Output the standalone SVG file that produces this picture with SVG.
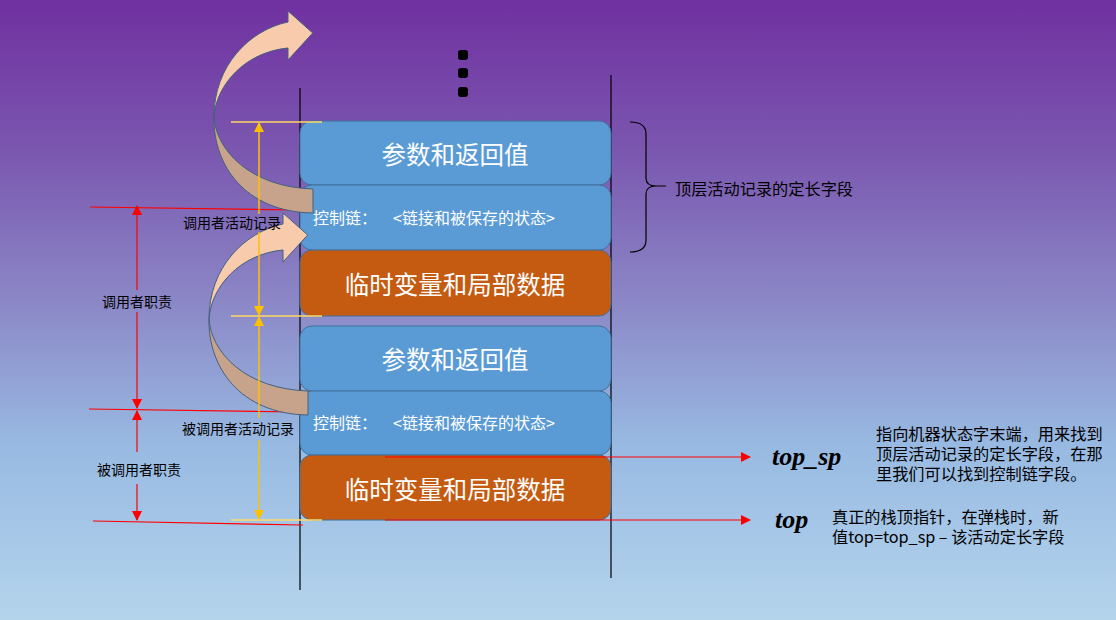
<svg xmlns="http://www.w3.org/2000/svg" xmlns:xlink="http://www.w3.org/1999/xlink" width="1116" height="620" viewBox="0 0 1116 620">
<defs>
<linearGradient id="bg" x1="0" y1="0" x2="0" y2="1">
<stop offset="0" stop-color="#7030A0"/>
<stop offset="0.25" stop-color="#7B58B0"/>
<stop offset="0.5" stop-color="#8C8AC8"/>
<stop offset="0.72" stop-color="#98BAE2"/>
<stop offset="1" stop-color="#B4D4EC"/>
</linearGradient>
<marker id="ar" viewBox="0 0 10 10" refX="9" refY="5" markerWidth="10" markerHeight="10" markerUnits="userSpaceOnUse" orient="auto-start-reverse"><path d="M0,0 L10,5 L0,10 Z" fill="#FF0000"/></marker>
<marker id="ay" viewBox="0 0 10 10" refX="9" refY="5" markerWidth="10" markerHeight="10" markerUnits="userSpaceOnUse" orient="auto-start-reverse"><path d="M0,0 L10,5 L0,10 Z" fill="#FFC000"/></marker>
<g id="carrow">
<path d="M214,117 C216,150 250,187 313,189 L313,213 C245,212 213,165 214,117 Z" fill="#C6A38A" stroke="#44607E" stroke-width="1"/>
<path d="M312.7,33 L288,11 L288,22 C250,30 214,65 214,117 C216,85 245,52 288,48 L288,60 Z" fill="#F8CBAD" stroke="#44607E" stroke-width="1"/>
</g>
</defs>
<style>
.box{stroke:#41719C;stroke-width:1}
.blue{fill:#5B9BD5}
.orange{fill:#C55A11}
.big{font-family:"Noto Sans CJK SC","Noto Sans",sans-serif;font-size:24.5px;fill:#FFFFFF;text-anchor:middle;dominant-baseline:central}
.small{font-family:"Noto Sans CJK SC","Noto Sans",sans-serif;font-size:16px;fill:#FFFFFF;dominant-baseline:central}
.lbl{font-family:"Noto Sans CJK SC","Noto Sans",sans-serif;font-size:14px;fill:#000000;dominant-baseline:central}
.desc{font-family:"Noto Sans CJK SC","Noto Sans",sans-serif;font-size:16.2px;fill:#000000;dominant-baseline:central}
.ptr{font-family:"Liberation Serif",serif;font-size:26px;font-weight:bold;font-style:italic;fill:#000000}
.red{stroke:#FF0000;stroke-width:1.2;fill:none}
.yel{stroke:#FFC000;stroke-width:1.5;fill:none}
.yelh{stroke:#FFD966;stroke-width:1.5;fill:none}
</style>
<rect x="0" y="0" width="1116" height="620" fill="url(#bg)"/>

<g id="dots" fill="#000000">
<rect x="458" y="50" width="10" height="10" rx="3"/>
<rect x="458" y="68" width="10" height="10" rx="3"/>
<rect x="458" y="87" width="10" height="10" rx="3"/>
</g>

<g id="rails" stroke="#000000" stroke-width="1.2">
<line x1="300" y1="88" x2="300" y2="590"/>
<line x1="611" y1="75" x2="611" y2="578"/>
</g>

<g id="box1"><rect class="box blue" x="300" y="121" width="311" height="64" rx="12"/><text class="big" x="455" y="153">参数和返回值</text></g>
<g id="box2"><rect class="box blue" x="300" y="185" width="311" height="65" rx="12"/><text class="small" x="313" y="217">控制链：<tspan x="393">&lt;链接和被保存的状态&gt;</tspan></text></g>
<g id="box3"><rect class="box orange" x="300" y="250" width="311" height="66" rx="12"/><text class="big" x="455" y="283">临时变量和局部数据</text></g>
<g id="box4"><rect class="box blue" x="300" y="326" width="311" height="65" rx="12"/><text class="big" x="455" y="358">参数和返回值</text></g>
<g id="box5"><rect class="box blue" x="300" y="391" width="311" height="64" rx="12"/><text class="small" x="313" y="422">控制链：<tspan x="393">&lt;链接和被保存的状态&gt;</tspan></text></g>
<g id="box6"><rect class="box orange" x="300" y="455" width="311" height="65" rx="12"/><text class="big" x="455" y="488">临时变量和局部数据</text></g>

<g id="connectors">
<line class="red" x1="90" y1="207" x2="300" y2="210"/>
<line class="red" x1="89" y1="409" x2="300" y2="412"/>
<line class="red" x1="93" y1="521" x2="303" y2="525"/>
<line class="red" x1="137" y1="290" x2="137" y2="206" marker-end="url(#ar)"/>
<line class="red" x1="137" y1="312" x2="137" y2="408" marker-end="url(#ar)"/>
<line class="red" x1="137" y1="452" x2="137" y2="411" marker-end="url(#ar)"/>
<line class="red" x1="137" y1="484" x2="137" y2="520" marker-end="url(#ar)"/>
<line class="red" x1="385" y1="457" x2="750" y2="457" marker-end="url(#ar)"/>
<line class="red" x1="385" y1="520" x2="750" y2="520" marker-end="url(#ar)"/>

<use xlink:href="#carrow"/>
<use xlink:href="#carrow" transform="translate(-5,202)"/>

<line class="yelh" x1="231" y1="122" x2="322" y2="122"/>
<line class="yelh" x1="231" y1="316" x2="322" y2="316"/>
<line class="yelh" x1="231" y1="520" x2="322" y2="520"/>
<line class="yel" x1="259" y1="214" x2="259" y2="123" marker-end="url(#ay)"/>
<line class="yel" x1="259" y1="232" x2="259" y2="315" marker-end="url(#ay)"/>
<line class="yel" x1="259" y1="418" x2="259" y2="317" marker-end="url(#ay)"/>
<line class="yel" x1="259" y1="440" x2="259" y2="519" marker-end="url(#ay)"/>

<path d="M630,122 Q646,122 646,134 L646,178 Q646,186 656,186 L666,186 M656,186 Q646,186 646,194 L646,240 Q646,252 630,252" fill="none" stroke="#000000" stroke-width="1.2"/>
</g>

<g id="labels">
<text class="lbl" x="232" y="222" text-anchor="middle">调用者活动记录</text>
<text class="lbl" x="238" y="428" text-anchor="middle">被调用者活动记录</text>
<text class="lbl" x="137" y="301" text-anchor="middle">调用者职责</text>
<text class="lbl" x="139" y="469" text-anchor="middle">被调用者职责</text>
<text class="desc" x="675" y="188">顶层活动记录的定长字段</text>
<text class="ptr" x="772" y="465">top_sp</text>
<text class="ptr" x="775" y="528">top</text>
<text class="desc" x="876" y="433">指向机器状态字末端，用来找到<tspan x="876" dy="20">顶层活动记录的定长字段，在那</tspan><tspan x="876" dy="20">里我们可以找到控制链字段。</tspan></text>
<text class="desc" x="832" y="516">真正的栈顶指针，在弹栈时，新<tspan x="832" dy="20">值top=top_sp – 该活动定长字段</tspan></text>
</g>
</svg>
